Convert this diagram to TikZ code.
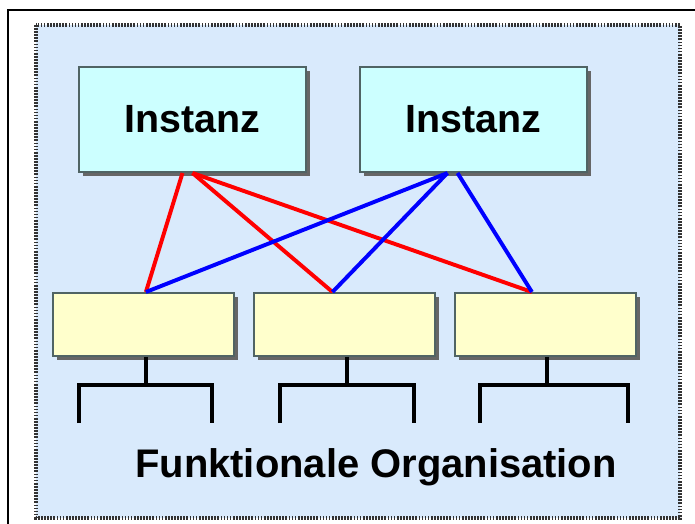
\documentclass[tikz,border=0pt]{standalone}
\usepackage{fontspec}
\setmainfont{Liberation Sans}
\usetikzlibrary{shadows,calc}

\definecolor{panelblue}{RGB}{217,234,252}
\definecolor{instcyan}{RGB}{204,255,255}
\definecolor{deptyellow}{RGB}{255,255,204}
\definecolor{boxedge}{RGB}{80,100,100}

\tikzset{
    instanz/.style={rectangle, draw=boxedge, line width=1.4pt, fill=instcyan,
        minimum width=5.675cm, minimum height=2.625cm,
        font=\fontsize{28}{32}\selectfont\bfseries,
        drop shadow={shadow xshift=0.11cm, shadow yshift=-0.11cm, fill=black!60, opacity=1}},
    abteilung/.style={rectangle, draw=boxedge, line width=1.4pt, fill=deptyellow,
        minimum width=4.525cm, minimum height=1.575cm,
        drop shadow={shadow xshift=0.11cm, shadow yshift=-0.11cm, fill=black!60, opacity=1}},
    redline/.style={red, line width=2.8pt},
    blueline/.style={blue, line width=2.8pt},
    stelle/.style={black, line width=2.8pt}
}

\begin{document}
\begin{tikzpicture}[x=0.025cm, y=-0.025cm]
        \useasboundingbox (0,0) rectangle (695,524);

        % frame and panel
        \draw[line width=1.6pt] (8,524) -- (8,10) -- (695,10);
        \draw[fill=panelblue, draw=black!80, line width=2.2pt, dash pattern=on 1.2pt off 1pt]
            (36,25) rectangle (680,518);

        \node[instanz] (inst1) at (192.5,119.5) {Instanz};
        \node[instanz] (inst2) at (473.5,119.5) {Instanz};

        \node[abteilung] (abt1) at (143.5,324.5) {};
        \node[abteilung] (abt2) at (344.5,324.5) {};
        \node[abteilung] (abt3) at (545.5,324.5) {};

        \draw[redline] ([xshift=-0.25cm]inst1.south) -- ([xshift=0.06cm]abt1.north);
        \draw[redline] (inst1.south) -- ([xshift=-0.3cm]abt2.north);
        \draw[redline] (inst1.south) -- ([xshift=-0.34cm]abt3.north);

        \draw[blueline] ([xshift=-0.65cm]inst2.south) -- ([xshift=0.06cm]abt1.north);
        \draw[blueline] ([xshift=-0.65cm]inst2.south) -- ([xshift=-0.3cm]abt2.north);
        \draw[blueline] ([xshift=-0.4cm]inst2.south) -- ([xshift=-0.34cm]abt3.north);

        % Stellen unter den Abteilungen
        \draw[stelle] ([xshift=0.06cm]abt1.south) -- ++(0,29);
        \draw[stelle] (79,423) -- (79,385) -- (212,385) -- (212,423);
        \draw[stelle] ([xshift=0.06cm]abt2.south) -- ++(0,29);
        \draw[stelle] (280,423) -- (280,385) -- (414,385) -- (414,423);
        \draw[stelle] ([xshift=0.04cm]abt3.south) -- ++(0,29);
        \draw[stelle] (480,423) -- (480,385) -- (628,385) -- (628,423);

        \node[anchor=base, font=\fontsize{28.4}{32}\selectfont\bfseries] (titel) at (376,477) {Funktionale Organisation};

    \end{tikzpicture}
\end{document}
